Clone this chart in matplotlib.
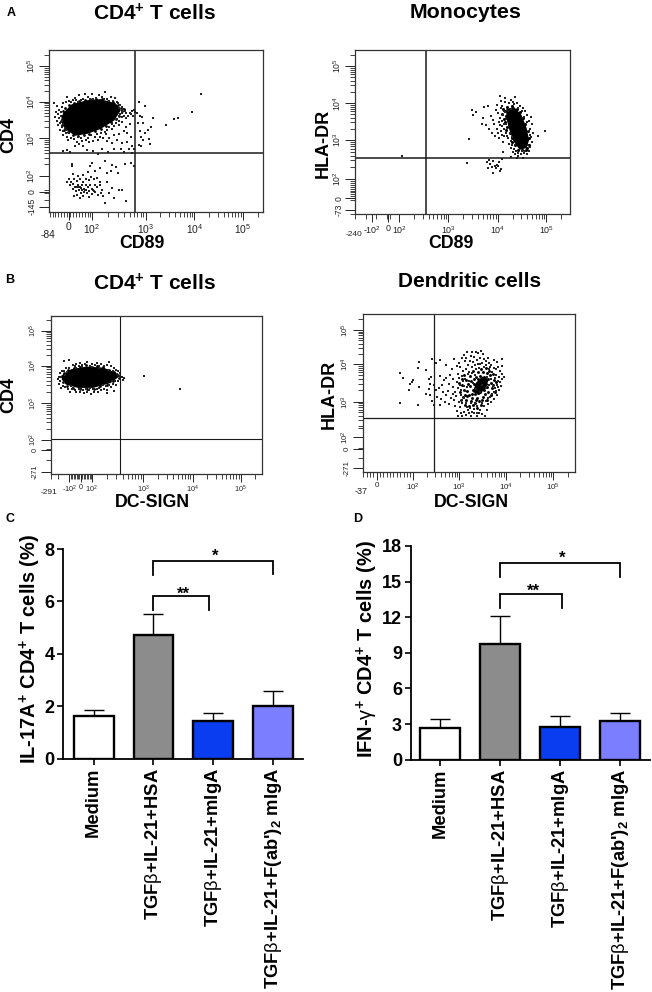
import numpy as np
import matplotlib
matplotlib.use('Agg')
import matplotlib.pyplot as plt

plt.rcParams['font.family'] = ['Liberation Sans', 'DejaVu Sans']
plt.rcParams['mathtext.fontset'] = 'custom'
plt.rcParams['mathtext.rm'] = 'Liberation Sans'
plt.rcParams['mathtext.it'] = 'Liberation Sans'
plt.rcParams['mathtext.bf'] = 'Liberation Sans:bold'
plt.rcParams['mathtext.default'] = 'regular'

W, H = 652, 992

# flow panels: positions are in display decades (10^3 = 3 and so on)
a1_core = [(1.31,3.68),(1.48,3.91),(1.79,4.02),(2.06,4.05),(2.37,3.94),(2.47,3.77),(2.34,3.50),(2.06,3.27),(1.79,3.14),(1.55,3.09),(1.34,3.27),(1.27,3.50)]
a1_clump = [(1.28,3.62),(1.30,3.74),(1.34,3.82),(1.42,3.92),(1.52,3.96),(1.62,4.02),(1.74,4.04),(1.86,4.06),(1.98,4.08),(2.10,4.07),
    (2.22,4.02),(2.32,3.98),(2.42,3.92),(2.48,3.84),(2.52,3.74),(2.44,3.62),(2.38,3.52),(2.28,3.44),(2.18,3.34),(2.08,3.26),
    (1.96,3.20),(1.84,3.12),(1.72,3.10),(1.60,3.06),(1.50,3.08),(1.40,3.16),(1.32,3.24),(1.28,3.36),(1.25,3.46),(2.56,3.80)]
a1_dots = [(1.10,3.95),(1.18,3.88),(1.22,3.78),(1.15,3.72),(1.20,3.66),(1.13,3.58),(1.22,3.55),(1.17,3.47),(1.24,3.42),(1.20,3.35),
    (1.27,3.30),(1.30,3.20),(1.24,3.24),(1.35,3.15),(1.30,3.10),(1.38,3.05),(1.45,3.02),(1.40,2.96),(1.27,3.85),(1.30,3.95),
    (1.26,3.72),(1.25,3.60),(1.27,3.48),(1.30,3.38),(1.33,3.28),(1.36,3.22),(1.42,3.14),(1.35,4.00),(1.42,4.03),(1.50,4.05),
    (1.38,4.12),(1.55,4.10),(1.60,4.00),(1.63,4.18),(1.70,4.08),(1.75,4.20),(1.80,4.12),(1.86,4.06),(1.90,4.22),(1.97,4.10),
    (2.04,4.18),(2.10,4.12),(2.15,4.25),(2.20,4.08),(2.28,4.14),(2.33,4.02),(2.40,4.00),(2.36,4.10),(1.46,3.98),(1.56,4.04),
    (1.66,4.05),(1.92,4.08),(2.13,4.06),(2.24,4.02),(2.42,3.95),(2.46,3.90),(2.50,3.85),(2.45,3.84),(2.53,3.80),(2.50,3.75),
    (2.57,3.74),(2.52,3.68),(2.60,3.68),(2.47,3.66),(2.56,3.62),(2.64,3.62),(2.50,3.58),(2.44,3.60),(2.60,3.55),(2.68,3.70),
    (2.72,3.75),(2.75,3.78),(2.70,3.66),(2.78,3.72),(2.82,3.70),(2.74,3.62),(2.40,3.52),(2.45,3.48),(2.52,3.45),(2.38,3.42),
    (2.30,3.40),(2.34,3.34),(2.44,3.36),(2.25,3.30),(2.20,3.22),(2.30,3.25),(2.15,3.18),(2.08,3.15),(2.18,3.12),(2.00,3.12),
    (2.05,3.05),(1.95,3.04),(1.88,3.08),(1.80,3.02),(1.72,3.08),(1.66,3.02),(1.60,3.05),(1.52,2.98),(1.58,2.90),(1.68,2.92),
    (1.76,2.95),(1.84,2.90),(1.62,2.84),(1.55,2.78),(1.70,2.80),(1.92,2.92),(2.02,2.95),(2.12,3.00),(2.24,3.02),(2.35,3.08),
    (2.45,3.12),(2.55,3.20),(2.60,3.30),(2.68,3.38),(2.62,3.15),(2.70,3.05),(2.40,2.95),(2.30,2.88),(2.20,2.92),(2.52,2.88),
    (2.62,2.90),(2.72,2.78),(2.76,2.70),(2.66,2.72),(2.48,2.72),(2.35,2.70),(2.10,2.70),(1.92,2.66),(1.78,2.68),(1.43,2.62),
    (1.30,2.65),(1.38,2.68),(2.22,2.62),(2.02,2.58),(2.55,2.62),(2.72,2.60),(2.84,3.42),(2.88,3.60),(2.92,3.58),(2.90,3.05),
    (2.98,3.15),(2.88,3.20),(3.04,3.22),(3.10,3.30),(2.94,2.95),(3.06,2.98),(3.08,2.85),(2.85,2.82),(2.90,2.78),(3.14,3.56),
    (3.42,3.36),(3.58,3.52),(3.66,3.56),(3.95,3.73),(4.14,4.20),(2.95,3.42),(2.85,3.98),(2.98,3.88),
    (1.48,2.30),(1.48,2.24),(1.90,2.32),(1.86,2.25),(2.15,2.38),(2.30,2.28),(2.38,2.22),(2.58,2.30),(2.70,2.32),(2.76,2.24),
    (1.95,2.12),(2.05,2.18),(2.20,2.05),(1.70,2.00),(1.80,2.08),(1.60,1.96),(1.50,2.02),(1.42,1.88),(1.38,1.80),(1.46,1.82),
    (1.52,1.90),(1.58,1.84),(1.64,1.88),(1.70,1.82),(1.76,1.90),(1.82,1.86),(1.88,1.94),(1.94,1.88),(2.00,1.92),(2.06,1.82),
    (1.44,1.72),(1.50,1.76),(1.54,1.68),(1.60,1.74),(1.64,1.66),(1.68,1.72),(1.72,1.62),(1.76,1.74),(1.80,1.66),(1.86,1.72),
    (1.90,1.62),(1.96,1.74),(2.00,1.66),(2.06,1.72),(2.10,1.60),(1.50,1.62),(1.56,1.56),(1.62,1.60),(1.66,1.52),(1.72,1.54),
    (1.78,1.50),(1.84,1.56),(1.90,1.48),(1.96,1.54),(2.02,1.46),(2.08,1.52),(1.58,1.46),(1.52,1.42),(1.70,1.42),(1.82,1.40),
    (2.12,1.42),(2.25,1.52),(2.30,1.64),(2.20,1.80),(2.34,1.38),(2.15,1.25),(2.60,1.30),(2.45,1.60),(2.52,1.58),(1.64,1.38),
    (1.74,1.60),(1.77,1.58),(1.69,1.60),(1.66,1.64),(1.92,1.60),(1.94,1.57),(1.63,1.68),(1.59,1.66),(2.28,2.10),(2.42,2.05)]

a2_core = [(4.18,3.82),(4.32,3.86),(4.46,3.66),(4.56,3.32),(4.61,3.00),(4.56,2.80),(4.44,2.76),(4.32,2.98),(4.24,3.28),(4.18,3.60)]
a2_clump = [(4.10,3.84),(4.14,3.78),(4.18,3.88),(4.22,3.74),(4.16,3.64),(4.20,3.54),(4.22,3.42),(4.12,3.56),(4.18,3.36),(4.24,3.18),
    (4.28,3.06),(4.34,2.88),(4.40,2.74),(4.48,2.74),(4.56,2.74),(4.62,2.88),(4.62,3.06),(4.60,3.24),(4.54,3.44),(4.50,3.58),
    (4.44,3.74),(4.38,3.84),(4.28,3.90),(4.08,3.70),(4.14,3.48),(4.30,3.70),(4.34,3.60),(4.28,2.96),(4.58,2.80),(4.16,3.26)]
a2_dots = [(2.07,2.57),(3.41,3.03),(3.37,2.38),(3.98,3.95),(3.55,3.75),(3.48,3.80),(3.72,3.88),(3.80,3.90),(3.96,3.80),(3.50,3.68),
    (3.70,3.58),(3.68,3.44),(3.75,3.40),(3.85,3.65),(3.90,3.55),(3.92,3.42),(3.98,3.30),(3.82,3.30),(4.00,3.72),(4.04,3.60),
    (4.02,3.48),(4.00,3.20),(4.08,3.38),(4.06,3.25),(4.12,3.10),(4.02,3.06),(4.10,2.96),(4.20,3.05),(4.16,3.20),(4.22,2.90),
    (4.25,2.80),(4.10,2.68),(4.30,2.68),(4.35,2.62),(4.40,2.66),(4.46,2.62),(4.52,2.66),(4.58,2.64),(4.50,2.52),(4.38,2.52),
    (4.25,2.54),(4.55,2.70),(4.62,2.72),(4.65,2.82),(4.68,2.95),(4.66,3.08),(4.70,3.20),(4.65,3.30),(4.68,3.42),(4.62,3.50),
    (4.66,3.62),(4.58,3.68),(4.55,3.78),(4.50,3.85),(4.44,3.92),(4.38,3.98),(4.30,4.02),(4.22,4.00),(4.14,4.03),(4.06,4.05),
    (4.03,4.18),(4.14,4.12),(4.34,4.16),(4.26,4.08),(4.80,3.10),(4.95,3.25),(4.07,3.92),(4.11,3.78),(4.05,3.86),(4.09,3.68),
    (4.14,3.74),(4.07,3.52),(4.11,3.44),(4.16,3.56),(4.15,3.42),(4.12,3.30),(4.20,3.78),(4.26,3.82),(4.32,3.96),(4.40,3.86),
    (4.48,3.78),(4.52,3.62),(4.58,3.48),(4.62,3.25),(4.64,3.14),(4.60,2.88),(4.24,3.18),(4.28,3.08),(4.18,3.12),(4.26,2.98),
    (4.34,2.86),(4.32,2.76),(4.28,2.88),(4.40,2.58),(4.48,2.70),(4.36,2.70),(4.04,3.40),(4.08,3.14),(3.88,3.18),(3.94,3.12),
    (3.82,2.48),(3.90,2.45),(3.84,2.36),(3.93,2.30),(3.98,2.34),(4.02,2.42),(4.08,2.50),(3.88,2.28),(3.96,2.24),(4.04,2.18),
    (3.90,2.12),(3.78,2.42),(3.80,2.24),(4.06,2.22),(3.99,2.30)]

b1_core = [(1.36,3.78),(1.53,3.92),(1.84,3.99),(2.18,3.96),(2.42,3.83),(2.47,3.72),(2.32,3.57),(1.97,3.44),(1.66,3.44),(1.42,3.53),(1.34,3.66)]
b1_clump = [(1.33,3.74),(1.38,3.84),(1.46,3.92),(1.58,3.98),(1.70,4.00),(1.82,4.04),(1.94,4.01),(2.06,4.03),(2.18,3.99),(2.30,3.92),
    (2.40,3.86),(2.48,3.78),(2.50,3.70),(2.38,3.60),(2.26,3.50),(2.12,3.46),(1.98,3.38),(1.84,3.40),(1.70,3.38),(1.56,3.42),(1.44,3.48),(1.36,3.58)]
b1_dots = [(1.30,3.82),(1.33,3.88),(1.28,3.72),(1.25,3.66),(1.30,3.60),(1.27,3.52),(1.35,3.48),(1.32,3.42),(1.40,3.44),(1.38,3.90),
    (1.42,3.96),(1.48,3.98),(1.38,4.15),(1.48,4.18),(1.55,4.04),(1.60,4.02),(1.62,4.08),(1.68,4.02),(1.70,4.12),(1.74,4.05),
    (1.80,4.08),(1.84,4.14),(1.90,4.03),(1.94,4.08),(2.00,4.04),(2.04,4.12),(2.10,4.03),(2.14,4.08),(2.20,4.02),(2.26,4.06),
    (2.30,4.14),(2.34,4.02),(2.40,3.96),(2.44,3.92),(2.48,3.88),(2.52,3.82),(2.50,3.76),(2.56,3.72),(2.52,3.68),(2.60,3.70),
    (2.49,3.62),(2.42,3.60),(2.38,3.54),(2.44,3.50),(2.30,3.50),(2.34,3.44),(2.24,3.46),(2.20,3.40),(2.26,3.36),(2.10,3.42),
    (2.14,3.36),(2.04,3.38),(2.08,3.30),(1.96,3.38),(1.98,3.30),(1.88,3.36),(1.92,3.26),(1.82,3.40),(1.84,3.30),(1.76,3.36),
    (1.78,3.28),(1.68,3.38),(1.70,3.30),(1.60,3.36),(1.62,3.30),(1.54,3.38),(1.50,3.32),(1.45,3.40),(2.26,3.28),(2.40,3.34),
    (1.50,3.30),(1.52,3.46),(1.44,3.86),(1.40,3.78),(1.62,3.96),(1.75,4.00),(1.95,4.01),(2.10,3.98),(2.28,3.92),(2.38,3.88),
    (2.46,3.80),(2.36,3.62),(2.18,3.50),(1.90,3.42),(1.72,3.40),(1.56,3.42),(1.38,3.58),(1.32,3.72),(2.58,3.64),(3.02,3.74),(3.76,3.38)]

# the dendritic cell cloud only has a small solid centre, the rest is a thick clump
b2_core = [(3.30,3.28),(3.42,3.22),(3.54,3.40),(3.60,3.62),(3.48,3.68),(3.36,3.52)]
b2_clump = [(3.20,3.20),(3.26,3.10),(3.32,3.22),(3.38,3.12),(3.44,3.28),(3.36,3.36),(3.28,3.34),(3.22,3.44),(3.30,3.50),(3.38,3.48),
    (3.46,3.42),(3.52,3.34),(3.56,3.50),(3.48,3.58),(3.40,3.62),(3.34,3.70),(3.44,3.72),(3.52,3.70),(3.60,3.62),(3.64,3.74),
    (3.58,3.80),(3.50,3.84),(3.66,3.52),(3.68,3.38),(3.60,3.28),(3.24,3.02),(3.32,2.96),(3.16,3.30),(3.12,3.18),(3.24,3.58),
    (3.18,3.50),(3.42,3.02),(3.50,3.14),(3.14,3.06),(3.40,3.82),(3.30,3.62),(3.54,3.22),(3.34,3.04),(3.46,3.52),(3.58,3.42),
    (3.62,3.86),(3.72,3.60),(3.28,2.90),(3.08,3.14),(3.70,3.76),(3.10,3.32),(3.06,3.46),(3.14,3.60),(3.10,3.74),(3.22,3.72),
    (3.28,3.86),(3.46,3.92),(3.56,3.94),(3.70,3.48),(3.76,3.54),(3.74,3.26),(3.66,3.18),(3.58,3.06),(3.46,2.90),(3.38,2.84),
    (3.20,2.88),(3.12,2.92),(3.04,3.04),(3.02,3.28),(3.00,3.52),(3.06,3.64),(3.16,3.16),(3.40,3.24),(3.26,3.22),(3.48,3.06)]
b2_dots = [(1.76,3.79),(1.76,2.97),(1.83,3.65),(2.01,3.56),(1.96,3.32),(2.17,4.11),(2.15,3.93),(2.31,3.88),(2.15,2.91),(2.17,3.42),
    (2.31,3.23),(2.41,3.69),(2.43,4.20),(1.98,3.50),(2.03,3.60),(2.40,3.50),(2.38,3.35),(2.40,3.20),(2.44,3.02),(2.47,2.90),
    (2.36,3.62),(2.52,4.08),(2.60,4.15),(2.72,4.02),(2.52,3.32),(2.58,3.38),(2.64,3.48),(2.68,3.60),(2.60,3.72),(2.72,3.66),
    (2.66,3.28),(2.72,3.20),(2.62,3.08),(2.70,3.00),(2.60,2.92),(2.78,2.95),(2.85,3.90),(2.80,3.75),(2.90,4.18),(2.95,4.00),
    (2.88,3.62),(2.78,3.50),(2.86,3.42),(2.92,3.28),(2.82,3.12),(2.90,3.05),(2.92,2.88),(2.96,2.74),(2.98,2.62),(3.04,2.68),
    (3.02,2.85),(3.00,3.00),(3.06,2.60),(3.10,2.72),(3.14,2.64),(3.18,2.78),(3.24,2.62),(3.26,2.72),(3.30,2.80),(3.36,2.70),
    (3.38,2.60),(3.44,2.78),(3.48,2.66),(3.54,2.60),(3.58,2.76),(3.52,2.88),(3.60,2.94),(3.66,3.00),(3.72,3.08),(3.78,3.20),
    (3.82,3.32),(3.86,3.45),(3.80,3.58),(3.88,3.62),(3.82,3.70),(3.90,3.76),(3.94,3.70),(3.84,3.86),(3.76,3.92),(3.88,4.00),
    (3.78,4.10),(3.90,4.20),(3.72,4.15),(3.66,4.02),(3.60,4.22),(3.56,4.12),(3.50,4.32),(3.46,4.40),(3.40,4.36),(3.34,4.38),
    (3.26,4.38),(3.16,4.38),(3.10,4.30),(3.05,4.22),(3.12,4.12),(3.00,4.08),(3.18,4.02),(3.28,4.10),(3.30,4.25),(3.38,4.15),
    (3.44,4.05),(3.52,3.98),(3.62,3.92),(3.02,3.96),(3.08,3.86),(2.98,3.78),(3.14,3.90),(3.20,3.84),(3.26,3.96),(3.34,3.92),
    (3.42,3.95),(3.00,3.66),(3.06,3.72),(3.12,3.64),(3.18,3.76),(3.26,3.80),(3.32,3.74),(2.96,3.55),(3.02,3.48),(2.98,3.38),
    (3.04,3.20),(3.10,3.10),(3.06,2.96),(3.16,2.86),(3.22,2.84),(3.36,2.88),(3.48,2.96),(3.60,3.10),(3.68,3.22),(3.74,3.38),
    (3.78,3.48),(3.74,3.66),(3.68,3.84),(2.94,3.16),(2.88,3.22),(3.32,2.96),(3.24,2.98),(3.12,3.30),(3.16,3.42),(3.20,3.58),
    (3.28,3.52),(3.58,3.68),(3.48,3.46),(3.56,3.38),(3.62,3.48),(3.66,3.62),(3.44,3.26),(3.34,3.36),(3.72,3.28),(3.70,3.44),
    (2.54,3.14),(2.48,3.46),(2.76,3.30),(3.08,3.58),(3.04,3.34),(3.10,3.44),(3.06,3.06),(3.14,2.96),(3.20,2.70),(3.30,2.68),
    (3.42,2.70),(3.56,3.02),(3.64,3.14),(3.76,3.30),(3.80,3.42),(3.84,3.56),(3.76,3.74),(3.72,3.94),(3.64,3.96),(3.56,4.02),
    (3.48,4.08),(3.40,4.04),(3.32,4.02),(3.22,4.14),(3.14,4.22),(3.24,4.26),(3.44,4.22),(3.52,4.18),(3.62,4.08),(3.80,3.98)]

# tick labels and positions per flow panel (decades at 10^2, 10^3, 10^4, 10^5)
a1_xdec, a1_ydec = [1.89, 3, 4, 5], [1.98, 3, 4, 4.97]
a2_xdec, a2_ydec = [2.01, 3, 4, 4.97], [1.96, 3, 3.99, 4.98]
b1_xdec, b1_ydec = [1.94, 3, 4.01, 5], [2.0, 3, 4.03, 5.0]
b2_xdec, b2_ydec = [2.03, 3, 3.97, 4.96], [2.03, 3, 4.05, 4.99]
decade_labels = ['$10^{2}$', '$10^{3}$', '$10^{4}$', '$10^{5}$']

categories = ['Medium', r'TGF$\mathrm{\beta}$+IL-21+HSA', r'TGF$\mathrm{\beta}$+IL-21+mIgA',
              r"TGF$\mathrm{\beta}$+IL-21+F(ab')$_{2}$ mIgA"]
bar_colors = ['white', '#8c8c8c', '#0a3cf0', '#7a7eff']
c_means = [1.64, 4.72, 1.45, 2.02]
c_tops = [1.86, 5.51, 1.76, 2.58]
d_means = [2.64, 9.72, 2.75, 3.23]
d_tops = [3.40, 12.13, 3.65, 3.96]

fig = plt.figure(figsize=(W / 100, H / 100), dpi=100)


def label(px, py, s, **kw):
    kw.setdefault('ha', 'center')
    kw.setdefault('va', 'center')
    kw.setdefault('fontweight', 'bold')
    fig.text(px / W, 1 - py / H, s, **kw)


def axes_px(left, right, top, bottom):
    return fig.add_axes([left / W, 1 - bottom / H, (right - left) / W, (bottom - top) / H])


def minors(decades, top):
    out = []
    for a, b in zip(decades, decades[1:] + [decades[-1] + 1]):
        out += [a + (b - a) * np.log10(k) for k in range(2, 10) if a + (b - a) * np.log10(k) < top]
    return out


def flow_panel(box, xlim, ylim, core, clump, dots, vgate, hgate, xdec, ydec, xlow, ylow, xextra, yextra,
               lw=1.1, fs=7.4, yfs=6.2, clump_s=4):
    ax = axes_px(*box)
    ax.set_xlim(xlim)
    ax.set_ylim(ylim)
    core = np.array(core)
    clump = np.array(clump)
    dots = np.array(dots)
    ax.fill(core[:, 0], core[:, 1], color='black', lw=1)
    ax.scatter(clump[:, 0], clump[:, 1], s=clump_s, c='black', marker='o', linewidths=0)
    ax.scatter(dots[:, 0], dots[:, 1], s=0.55, c='#222222', marker='s', linewidths=0)
    ax.axvline(vgate, color='#1a1a1a', lw=lw)
    ax.axhline(hgate, color='#1a1a1a', lw=lw)
    for s in ax.spines.values():
        s.set_linewidth(0.9)
        s.set_color('#333333')
    ax.set_xticks(xdec + [p for p, _ in xextra])
    ax.set_xticklabels(decade_labels + [t for _, t in xextra], fontsize=fs)
    ax.set_yticks(ydec + [p for p, _ in yextra])
    ax.set_yticklabels(decade_labels + [t for _, t in yextra], fontsize=yfs, rotation=90, va='center')
    ax.set_xticks(xlow + minors(xdec, xlim[1]), minor=True)
    ax.set_yticks(ylow + minors(ydec, ylim[1]), minor=True)
    ax.tick_params(axis='x', which='major', length=5.5, width=0.7, pad=2, color='#222222', labelcolor='#222222')
    ax.tick_params(axis='x', which='minor', length=3.5, width=0.6, color='#222222')
    ax.tick_params(axis='y', which='major', length=7, width=0.7, pad=1.5, color='#222222', labelcolor='#222222')
    ax.tick_params(axis='y', which='minor', length=3.5, width=0.6, color='#222222')
    return ax


flow_panel((48.7, 263.3, 50.3, 211.7), (1.0, 5.42), (1.0, 5.4), a1_core, a1_clump, a1_dots, 2.77, 2.59, a1_xdec, a1_ydec,
           list(np.arange(1.02, 1.88, 0.06)), [1.14, 1.32, 1.52, 1.55, 1.58],
           [(1.41, '0')], [(1.55, '0'), (1.14, '-145')])
flow_panel((355.3, 569.7, 50, 213.7), (1.13, 5.44), (1.03, 5.41), a2_core, a2_clump, a2_dots, 2.56, 2.51, a2_xdec, a2_ydec,
           [1.13, 1.34, 1.54, 1.76, 1.79, 1.82], list(np.arange(1.4, 1.95, 0.05)) + [1.03, 1.13],
           [(1.46, r'-$10^{2}$'), (1.78, '0')], [(1.44, '0'), (1.13, '-73')], fs=6.4, clump_s=5)
flow_panel((50.7, 261.7, 316, 473.7), (1.10, 5.43), (1.06, 5.40), b1_core, b1_clump, b1_dots, 2.53, 2.01, b1_xdec, b1_ydec,
           [1.1, 1.26] + list(np.arange(1.48, 1.94, 0.03)), [1.12, 1.44, 1.70, 1.72, 1.74],
           [(1.48, r'-$10^{2}$'), (1.72, '0')], [(1.72, '0'), (1.12, '-271')], lw=0.8, fs=5.2, yfs=5.2)
flow_panel((362.7, 575, 314.3, 471.7), (0.99, 5.41), (1.06, 5.43), b2_core, b2_clump, b2_dots, 2.47, 2.55, b2_xdec, b2_ydec,
           list(np.arange(1.0, 2.0, 0.07)), [1.15, 1.43, 1.68, 1.70, 1.72, 2.26],
           [(1.28, '0')], [(1.70, '0'), (1.15, '-271')], lw=0.9, fs=5.8, yfs=5.8, clump_s=4.5)


def bar_panel(box, ylim, yticks, means, tops, xlim, left_bracket, right_bracket):
    ax = axes_px(*box)
    xpos = np.arange(4)
    ax.bar(xpos, means, width=0.667, color=bar_colors, edgecolor='black', linewidth=1.7, zorder=3)
    ax.errorbar(xpos, means, yerr=[[0] * 4, np.array(tops) - np.array(means)], fmt='none', ecolor='black',
                elinewidth=1.0, capsize=7.5, capthick=1.0, zorder=2)
    ax.set_xlim(xlim)
    ax.set_ylim(ylim)
    ax.set_yticks(yticks)
    ax.set_yticklabels(yticks, fontsize=13, fontweight='bold')
    ax.set_xticks(xpos)
    ax.set_xticklabels(categories, rotation=90, fontsize=13.2, fontweight='bold', ha='center', va='top')
    for s in ['top', 'right']:
        ax.spines[s].set_visible(False)
    for s in ['left', 'bottom']:
        ax.spines[s].set_linewidth(1.3)
    ax.tick_params(axis='both', length=4.5, width=1.2, pad=2)
    for (x0, x1, y, low0, low1, star, stary) in (left_bracket, right_bracket):
        ax.plot([x0, x0, x1, x1], [low0, y, y, low1], color='black', lw=1.3, clip_on=False, solid_joinstyle='miter')
        ax.text((x0 + x1) / 2 + 0.03, stary, star, ha='center', va='center', fontsize=12, fontweight='bold')
    return ax


bar_panel((63.3, 302.7, 549, 758.7), (0, 8), [0, 2, 4, 6, 8], c_means, c_tops, (-0.505, 3.49),
          (1, 1.93, 6.21, 5.68, 5.66, '**', 6.28), (1, 3, 7.56, 7.0, 7.05, '*', 7.72))
bar_panel((411, 650, 546, 759.7), (0, 18), [0, 3, 6, 9, 12, 15, 18], d_means, d_tops, (-0.492, 3.5),
          (1, 2.03, 13.96, 12.75, 12.75, '**', 14.2), (1, 3, 16.6, 15.4, 15.4, '*', 16.95))

# panel titles and axis names
for x, y, s, size in [(154, 20.7, 'CD4$^{+}$ T cells', 15), (466, 17.7, 'Monocytes', 15.4),
                      (154, 290.7, 'CD4$^{+}$ T cells', 15), (470, 286.7, 'Dendritic cells', 15)]:
    label(x, y, s, fontsize=size, va='baseline')
for x, y, s in [(142, 244, 'CD89'), (451, 244, 'CD89'), (152, 502, 'DC-SIGN'), (471, 502, 'DC-SIGN')]:
    label(x, y, s, fontsize=12.8)
for x, y, s in [(9, 135, 'CD4'), (323, 143, 'HLA-DR'), (9, 395, 'CD4'), (329, 394, 'HLA-DR')]:
    label(x, y, s, fontsize=13, rotation=90)
for x, y, s in [(11, 13, 'A'), (10, 280, 'B'), (10, 519, 'C'), (358, 519, 'D')]:
    label(x, y, s, fontsize=9)
for x, y, s, size in [(47.7, 235, '-84', 7.4), (354, 235, '-240', 6), (49, 492.7, '-291', 6), (361, 492, '-37', 6.5)]:
    label(x, y, s, fontsize=size, fontweight='normal', color='#222222')
label(30, 649, 'IL-17A$^{+}$ CD4$^{+}$ T cells (%)', fontsize=14.4, rotation=90)
label(367, 649.5, r'IFN-$\mathrm{\gamma}^{+}$ CD4$^{+}$ T cells (%)', fontsize=14.4, rotation=90)

fig.savefig('out.png', dpi=100)
